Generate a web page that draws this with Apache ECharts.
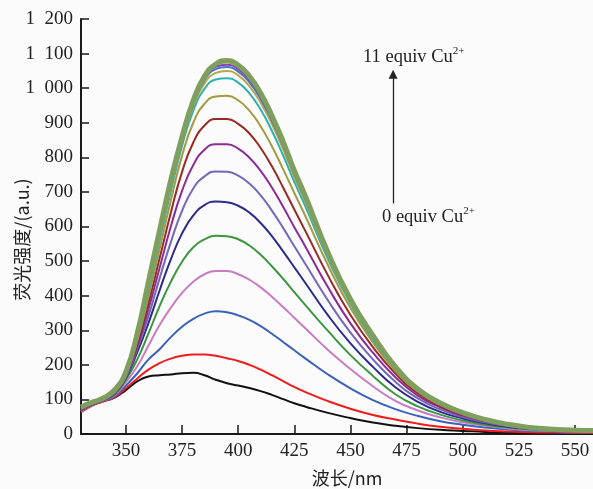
<!DOCTYPE html>
<html>
<head>
<meta charset="utf-8">
<script src="https://cdn.jsdelivr.net/npm/echarts@6/dist/echarts.min.js"></script>
<style>
  html, body { margin: 0; padding: 0; background: #fbfbfb; }
  #chart { width: 593px; height: 489px; }
</style>
</head>
<body>
<div id="chart"></div>
<script>
// 波长 (nm)
const wavelengths = [330, 335, 340, 345, 350, 355, 360, 365, 370, 375, 380, 385, 390, 395, 400, 405, 410, 415, 420, 425, 430, 440, 450, 460, 470, 480, 490, 500, 510, 520, 530, 540, 550, 558];

// 荧光强度, 0 equiv Cu2+ -> 11 equiv Cu2+
const curve0 = [65, 84, 95, 105, 127, 152, 166, 170, 172, 176, 177, 170, 157, 147, 140, 133, 124, 113, 101, 89, 79, 61, 46, 33, 24, 17, 12, 9, 6, 4, 3, 2, 2, 2];
const curve1 = [63, 82, 94, 106, 132, 160, 186, 205, 218, 226, 230, 230, 226, 219, 211, 200, 186, 170, 153, 136, 121, 95, 73, 55, 42, 30, 21, 15, 10, 7, 5, 4, 3, 3];
const curve2 = [66, 84, 96, 109, 140, 175, 215, 245, 280, 310, 333, 348, 355, 352, 343, 330, 312, 290, 266, 242, 218, 172, 132, 98, 72, 52, 37, 27, 19, 13, 9, 7, 5, 5];
const curve3 = [67, 85, 97, 112, 150, 195, 255, 315, 365, 408, 440, 462, 471, 471, 462, 446, 424, 397, 367, 336, 305, 243, 188, 138, 96, 68, 48, 34, 24, 16, 11, 9, 7, 6];
const curve4 = [68, 86, 98, 114, 157, 215, 290, 370, 440, 498, 540, 563, 573, 572, 563, 545, 518, 485, 449, 410, 372, 298, 228, 168, 115, 80, 56, 39, 27, 19, 13, 10, 8, 7];
const curve5 = [69, 86, 98, 116, 162, 235, 320, 415, 505, 580, 632, 662, 672, 670, 660, 640, 610, 572, 528, 482, 436, 343, 262, 194, 135, 93, 64, 45, 31, 21, 15, 11, 8, 7];
const curve6 = [70, 87, 99, 118, 165, 245, 340, 450, 555, 645, 710, 745, 759, 758, 747, 724, 690, 646, 596, 543, 491, 386, 293, 216, 151, 103, 71, 49, 34, 23, 16, 12, 9, 8];
const curve7 = [71, 87, 99, 119, 168, 252, 360, 480, 600, 703, 778, 822, 838, 838, 825, 799, 761, 713, 657, 598, 541, 424, 320, 235, 164, 111, 77, 53, 36, 25, 17, 12, 9, 8];
const curve8 = [72, 88, 100, 120, 171, 260, 378, 508, 640, 758, 843, 892, 911, 911, 897, 869, 827, 774, 713, 649, 586, 458, 344, 251, 175, 118, 81, 56, 38, 26, 18, 13, 10, 9];
const curve9 = [73, 88, 100, 121, 173, 268, 396, 535, 675, 805, 900, 955, 976, 978, 965, 935, 890, 832, 766, 697, 629, 488, 364, 265, 183, 123, 84, 58, 39, 27, 18, 13, 10, 9];
const curve10 = [74, 89, 101, 122, 175, 276, 412, 558, 702, 833, 935, 998, 1025, 1029, 1016, 985, 938, 877, 806, 729, 657, 505, 376, 273, 188, 126, 87, 60, 40, 27, 19, 14, 11, 10];
const curve11 = [75, 89, 101, 123, 176, 280, 420, 568, 714, 845, 948, 1014, 1044, 1050, 1037, 1005, 958, 896, 824, 743, 669, 513, 381, 278, 191, 128, 88, 61, 41, 28, 19, 14, 11, 10];
const curve12 = [76, 90, 102, 124, 177, 283, 427, 575, 722, 851, 955, 1024, 1055, 1061, 1048, 1017, 969, 906, 833, 751, 677, 518, 385, 281, 193, 129, 89, 61, 41, 28, 19, 14, 11, 10];
const curve13 = [77, 90, 102, 125, 178, 286, 432, 582, 728, 855, 960, 1030, 1062, 1068, 1055, 1024, 976, 912, 838, 756, 681, 521, 387, 283, 194, 129, 89, 61, 42, 28, 19, 14, 11, 10];
const curve14 = [77, 91, 103, 126, 179, 288, 436, 586, 732, 858, 963, 1033, 1066, 1074, 1061, 1030, 981, 917, 842, 759, 684, 523, 388, 284, 194, 130, 90, 62, 42, 28, 19, 14, 11, 10];
const curve15 = [78, 92, 104, 128, 180, 290, 440, 590, 735, 860, 965, 1035, 1070, 1080, 1067, 1035, 986, 921, 846, 762, 687, 525, 390, 285, 195, 130, 90, 62, 42, 28, 19, 14, 11, 10];

const curves = [curve0, curve1, curve2, curve3, curve4, curve5, curve6, curve7,
  curve8, curve9, curve10, curve11, curve12, curve13, curve14, curve15];

const lineColors = ['#111111', '#f01c1c', '#3a62b8', '#c97bc4', '#3c9640', '#2c2c8c', '#7468b8', '#8c2c94',
  '#962b25', '#a39a42', '#2fb0b0', '#b6a64c', '#4a72c6', '#8048a8', '#a8a040', '#7f9f5e'];

const xTicks = [350, 375, 400, 425, 450, 475, 500, 525, 550];

// 箭头位置 (nm, 强度)
const arrowStart = [469, 667];
const arrowEnd = [469, 1040];

const chart = echarts.init(document.getElementById('chart'));

const series = curves.map((c, i) => ({
  type: 'line',
  data: wavelengths.map((w, j) => [w, c[j]]),
  smooth: 0.5,
  showSymbol: false,
  silent: true,
  lineStyle: {
    color: lineColors[i],
    width: i === curves.length - 1 ? 5 : 2
  },
  z: 2 + i
}));

// 箭头
series.push({
  type: 'line',
  data: [],
  markLine: {
    silent: true,
    symbol: ['none', 'triangle'],
    symbolSize: 9,
    label: { show: false },
    lineStyle: { color: '#222', width: 1.3, type: 'solid' },
    data: [[{ coord: arrowStart, symbol: 'none' }, { coord: arrowEnd, symbol: 'triangle', symbolSize: 9 }]]
  }
});

const axisFont = { fontFamily: 'Liberation Serif', fontSize: 19, color: '#222' };

const option = {
  backgroundColor: '#fbfbfb',
  animation: false,
  grid: { left: 81, right: 0, top: 19, bottom: 55, outerBoundsMode: 'none' },
  xAxis: {
    type: 'value',
    min: 330,
    max: 558,
    name: '波长/nm',
    nameLocation: 'middle',
    nameGap: 35,
    nameMoveOverlap: false,
    nameTextStyle: { fontFamily: 'Noto Sans CJK SC', fontSize: 18, color: '#222', padding: [0, 0, 0, 20] },
    axisLine: { lineStyle: { color: '#1a1a1a', width: 2 } },
    axisTick: { inside: true, length: 9, customValues: xTicks, lineStyle: { color: '#1a1a1a', width: 1.5 } },
    axisLabel: { customValues: xTicks, margin: 8, ...axisFont },
    splitLine: { show: false }
  },
  yAxis: {
    type: 'value',
    min: 0,
    max: 1200,
    interval: 100,
    name: '荧光强度/(a.u.)',
    nameLocation: 'middle',
    nameGap: 50,
    nameMoveOverlap: false,
    nameTextStyle: { fontFamily: 'Noto Sans CJK SC', fontSize: 18, color: '#222', padding: [0, 26, 0, 0] },
    axisLine: { show: true, lineStyle: { color: '#1a1a1a', width: 2 } },
    axisTick: { show: true, inside: true, length: 8, lineStyle: { color: '#1a1a1a', width: 1.5 } },
    axisLabel: {
      margin: 8,
      ...axisFont,
      formatter: v => v >= 1000 ? '1\u2002' + String(v - 1000).padStart(3, '0') : String(v)
    },
    splitLine: { show: false }
  },
  graphic: [
    {
      type: 'text',
      left: 363,
      top: 46,
      style: {
        text: '{a|11 equiv Cu}{s|2+}',
        rich: {
          a: { fontFamily: 'Liberation Serif', fontSize: 18.5, lineHeight: 22, fill: '#222' },
          s: { fontFamily: 'Liberation Serif', fontSize: 11, lineHeight: 22, verticalAlign: 'top', fill: '#222', padding: [0, 0, 8, 0] }
        }
      }
    },
    {
      type: 'text',
      left: 382,
      top: 206,
      style: {
        text: '{a|0 equiv Cu}{s|2+}',
        rich: {
          a: { fontFamily: 'Liberation Serif', fontSize: 18.5, lineHeight: 22, fill: '#222' },
          s: { fontFamily: 'Liberation Serif', fontSize: 11, lineHeight: 22, verticalAlign: 'top', fill: '#222', padding: [0, 0, 8, 0] }
        }
      }
    }
  ],
  series: series
};

chart.setOption(option);
</script>
</body>
</html>
